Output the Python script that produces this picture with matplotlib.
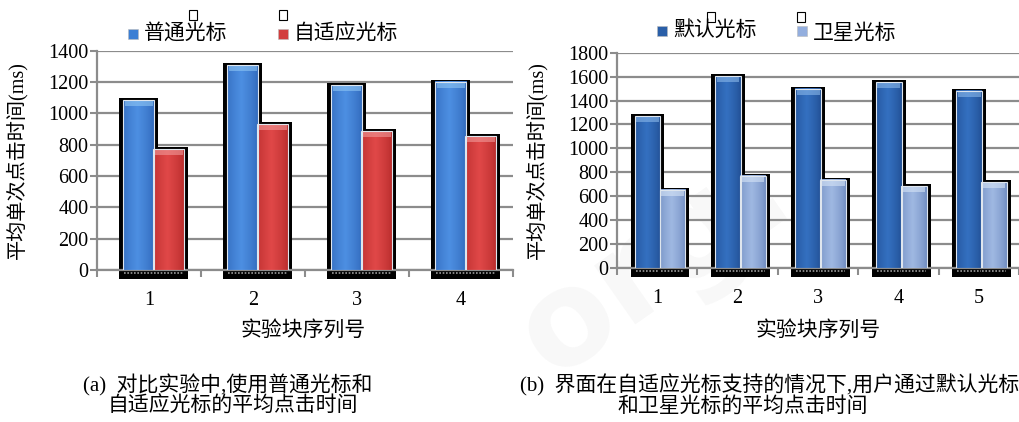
import numpy as np
import matplotlib
matplotlib.use("Agg")
import matplotlib.pyplot as plt
from matplotlib.patches import Rectangle
from matplotlib.colors import to_rgb

plt.rcParams['font.family'] = ['Liberation Serif', 'Noto Sans CJK SC']
plt.rcParams['font.size'] = 14.5

# (a) normal vs adaptive cursor
blocks_a = ['1', '2', '3', '4']
normal_cursor = [1083, 1308, 1178, 1202]
adaptive_cursor = [770, 932, 887, 855]

# (b) default vs satellite cursor
blocks_b = ['1', '2', '3', '4', '5']
default_cursor = [1268, 1603, 1500, 1555, 1482]
satellite_cursor = [655, 770, 738, 684, 715]

W, H = 1019, 422
fig = plt.figure(figsize=(W / 100, H / 100), dpi=100)

GRID = '#8c8c8c'
CJK = 15


def gradient_bar(ax, x, width, height, edge, mid, cap, ux, uy):
    # horizontal shading, lighter in the middle
    t = np.linspace(0, 1, 40)
    prof = 1 - np.abs(t - 0.45) / 0.55
    prof = np.clip(prof, 0, 1) ** 0.7
    e, m = np.array(to_rgb(edge)), np.array(to_rgb(mid))
    row = e[None, :] * (1 - prof[:, None]) + m[None, :] * prof[:, None]
    img = np.repeat(row[None, :, :], 2, axis=0)
    # black shadow frame, runs below the axis
    ax.add_patch(Rectangle((x - 4 * ux, -9 * uy), width + 8 * ux, height + 11 * uy,
                           facecolor='black', edgecolor='none', zorder=2, clip_on=False))
    ax.imshow(img, extent=(x, x + width, 0, height), aspect='auto',
              interpolation='bilinear', zorder=3)
    ax.add_patch(Rectangle((x + 1.5 * ux, height - 6 * uy), width - 3 * ux, 5 * uy,
                           facecolor=cap, edgecolor='none', alpha=0.6, zorder=4))
    ax.add_patch(Rectangle((x, 0), width, height, facecolor='none',
                           edgecolor='#dfe6ee', lw=0.8, zorder=5))
    # faint dotted reflection under the bar
    ax.plot([x + 1 * ux, x + width - 1 * ux], [-3 * uy, -3 * uy], color='#9a9a9a',
            lw=1.2, ls=(0, (1, 1)), zorder=6, clip_on=False)


def draw_panel(rect, cats, s1, s2, ymax, style1, style2, offs, bw):
    ax = fig.add_axes(rect)
    ax.patch.set_visible(False)
    n = len(cats)
    ax.set_xlim(-0.5, n - 0.5)
    ax.set_ylim(0, ymax)
    ux = 1.0 / (rect[2] * W / n)
    uy = ymax / (rect[3] * H)
    x = np.arange(n)
    for i in range(n):
        gradient_bar(ax, x[i] + offs[0] - bw / 2, bw, s1[i], *style1, ux, uy)
        gradient_bar(ax, x[i] + offs[1] - bw / 2, bw, s2[i], *style2, ux, uy)
    ax.set_yticks(np.arange(0, ymax + 1, 200))
    ax.yaxis.grid(True, color=GRID, lw=1.6, zorder=0)
    ax.set_axisbelow(True)
    ax.set_xticks(x)
    ax.set_xticklabels(cats)
    ax.set_xticks(np.arange(n + 1) - 0.5, minor=True)
    ax.tick_params(axis='x', which='major', length=0, pad=15)
    ax.tick_params(axis='x', which='minor', length=5, width=1.5, color=GRID, direction='out')
    ax.tick_params(axis='y', length=5, width=1.5, color=GRID, pad=1, direction='out')
    for s in ['top', 'right']:
        ax.spines[s].set_visible(False)
    for s in ['left', 'bottom']:
        ax.spines[s].set_color(GRID)
        ax.spines[s].set_linewidth(1.6)
    ax.set_ylabel('平均单次点击时间(ms)', fontsize=14.5, labelpad=0)
    ax.yaxis.set_label_coords(-70 / (rect[2] * W), 0.5)
    return ax


def fx(px):
    return px / W


def fy(py):
    return 1 - py / H


# faint site watermark, behind everything
fig.text(fx(655), fy(265), 'org.', fontsize=95, color='#000000', alpha=0.03,
         rotation=35, ha='center', va='center', family='DejaVu Sans', weight='bold', zorder=-5)

left_rect = [fx(97), fy(270), fx(416), 219.3 / H]
right_rect = [fx(617), fy(268), fx(402), 215.3 / H]

draw_panel(left_rect, blocks_a, normal_cursor, adaptive_cursor, 1400,
           ('#2f66b8', '#4d8fe2', '#8fc6f4'), ('#b52a2a', '#e04848', '#f19a9a'),
           (-0.10, 0.19), 0.30)
draw_panel(right_rect, blocks_b, default_cursor, satellite_cursor, 1800,
           ('#214f94', '#3470c0', '#8ab8ea'), ('#6f8cc0', '#9fb8e2', '#d6e4f6'),
           (-0.12, 0.19), 0.32)


def legend_item(xp, yp, color, label, dy=0):
    fig.patches.append(Rectangle((fx(xp), fy(yp + 5)), fx(10), 10 / H, facecolor=color,
                                 edgecolor='#bbbbbb', lw=0.4, transform=fig.transFigure))
    fig.text(fx(xp + 16), fy(yp + dy), label, fontsize=CJK, va='center', ha='left')


def empty_box(xp, yp):
    fig.patches.append(Rectangle((fx(xp), fy(yp + 10)), fx(8), 10 / H, facecolor='white',
                                 edgecolor='black', lw=0.8, transform=fig.transFigure))


legend_item(128, 34, '#3c7fd4', '普通光标')
legend_item(278, 34, '#d23e3e', '自适应光标')
empty_box(189, 10)
empty_box(279, 10)

legend_item(657, 31, '#2a5fa8', '默认光标')
legend_item(797, 31, '#93aede', '卫星光标', dy=3)
empty_box(707, 12)
empty_box(797, 12)

fig.text(fx(303), fy(331), '实验块序列号', fontsize=CJK, ha='center', va='center')
fig.text(fx(818), fy(331), '实验块序列号', fontsize=CJK, ha='center', va='center')

fig.text(fx(228), fy(385), '(a)  对比实验中,使用普通光标和', fontsize=CJK, ha='center', va='center')
fig.text(fx(233), fy(407), '自适应光标的平均点击时间', fontsize=CJK, ha='center', va='center')
fig.text(fx(770), fy(385), '(b)  界面在自适应光标支持的情况下,用户通过默认光标', fontsize=CJK,
         ha='center', va='center')
fig.text(fx(743), fy(407), '和卫星光标的平均点击时间', fontsize=CJK, ha='center', va='center')

fig.savefig('out.png', dpi=100)
